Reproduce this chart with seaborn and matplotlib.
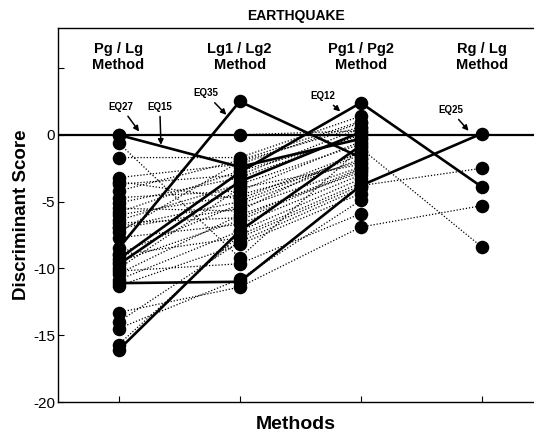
import matplotlib
matplotlib.use("Agg")
import matplotlib.pyplot as plt
import numpy as np
import pandas as pd
import seaborn as sns

METHODS = ["Pg / Lg\nMethod", "Lg1 / Lg2\nMethod", "Pg1 / Pg2\nMethod", "Rg / Lg\nMethod"]

# one entry per event: score for each method (nan = not available)
pg_lg = [0.0, -8.5, -9.3, -11.1, -16.1, -9.7,
         0.0, -0.6, -1.7, -3.2, -3.7, -4.2, -4.7, -5.1, -5.5, -5.8, -6.0, -6.4,
         -6.6, -6.9, -7.3, -7.7, -8.9, -9.0, -10.0, -10.2, -10.4, -10.85, -11.3,
         -13.3, -14.0, -14.5, -15.7, -3.5, -7.0, -9.5]
lg1_lg2 = [-2.4, 2.5, -2.8, -11.0, -7.2, -3.5,
           0.0, -9.2, -1.7, -2.2, -3.0, -1.9, -4.2, -3.2, -5.7, -2.7, -4.5, -3.7,
           -6.2, -5.0, -2.0, -6.7, -5.2, -7.7, -4.0, -9.65, -6.0, -7.2, -8.2,
           -11.4, -8.0, -10.8, -7.5, -4.8, -5.5, -6.4]
pg1_pg2 = [-0.3, -1.7, 2.4, -3.8, -0.8, 0.2,
           0.3, -1.0, 1.4, 0.9, 0.5, 1.0, -0.5, 0.0, -1.2, -0.2, -2.0, -0.7,
           -2.5, -1.5, 0.6, -3.0, -1.8, -3.8, -2.2, -5.9, -2.8, -3.3, -4.4,
           -6.9, -4.0, -4.9, -3.6, -1.3, -2.4, -2.6]
rg_lg = [np.nan, np.nan, -3.9, 0.1, np.nan, np.nan,
         np.nan, -8.4, np.nan, np.nan, np.nan, np.nan, np.nan, np.nan, np.nan,
         np.nan, np.nan, np.nan, np.nan, np.nan, np.nan, np.nan, np.nan, -2.5,
         np.nan, np.nan, np.nan, np.nan, np.nan, -5.3, np.nan, np.nan, np.nan,
         np.nan, np.nan, np.nan]
solid = [True] * 6 + [False] * 30

# labelled events: text, text position, arrow tip
labels = ["EQ27", "EQ15", "EQ35", "EQ12", "EQ25"]
label_xy = [(0.02, 2.1), (0.34, 2.1), (0.72, 3.1), (1.69, 2.9), (2.74, 1.85)]
arrow_xy = [(0.17, 0.25), (0.35, -0.75), (0.89, 1.5), (1.83, 1.75), (2.89, 0.3)]

rows = []
for i in range(len(pg_lg)):
    for j, col in enumerate([pg_lg, lg1_lg2, pg1_pg2, rg_lg]):
        if not np.isnan(col[i]):
            rows.append({"event": i, "method": j, "score": col[i], "solid": solid[i]})
df = pd.DataFrame(rows)

sns.set_style("white")
plt.rcParams["font.family"] = ["Liberation Sans", "DejaVu Sans"]
plt.rcParams["text.color"] = "black"
plt.rcParams["axes.labelcolor"] = "black"
plt.rcParams["xtick.color"] = "black"
plt.rcParams["ytick.color"] = "black"

fig = plt.figure(figsize=(5.34, 4.38), dpi=100)
ax = fig.add_axes([58 / 534, 1 - 402 / 438, 1 - 58 / 534, 374 / 438])

sns.lineplot(data=df[~df["solid"]], x="method", y="score", units="event",
             estimator=None, color="black", lw=0.9, linestyle=(0, (1, 1.5)),
             ax=ax, legend=False)
sns.lineplot(data=df[df["solid"]], x="method", y="score", units="event",
             estimator=None, color="black", lw=1.9, ax=ax, legend=False)
ax.axhline(0, color="black", lw=1.6, zorder=1)
sns.scatterplot(data=df, x="method", y="score", color="black", s=95,
                edgecolor="black", linewidth=0, ax=ax, zorder=5, legend=False)

for t, xy, tip in zip(labels, label_xy, arrow_xy):
    ax.annotate(t, xy=tip, xytext=xy, ha="center", va="center",
                fontsize=7, fontweight="bold",
                arrowprops=dict(arrowstyle="-|>", color="black", lw=1.1,
                                mutation_scale=8, shrinkA=1, shrinkB=0))

for j, m in enumerate(METHODS):
    ax.text(j, 5.8, m, ha="center", va="center", fontsize=10.5,
            fontweight="bold", linespacing=1.2)

ax.set_xlim(-0.5, 3.43)
ax.set_ylim(-20, 8)
ax.set_xticks(range(4))
ax.set_xticklabels([])
ax.set_yticks([5, 0, -5, -10, -15, -20])
ax.set_yticklabels(["", "0", "-5", "-10", "-15", "-20"], fontsize=11)
ax.tick_params(left=True, bottom=True, direction="in", length=4, width=0.8, pad=2)
for side in ["left", "bottom", "top"]:
    ax.spines[side].set_color("black")
    ax.spines[side].set_linewidth(1.0)
ax.spines["right"].set_visible(False)

ax.set_xlabel("Methods", fontsize=14, fontweight="bold", labelpad=8)
ax.set_ylabel("Discriminant Score", fontsize=13.5, fontweight="bold", labelpad=2)
ax.set_title("EARTHQUAKE", fontsize=10, fontweight="bold", pad=6)

fig.savefig("out.png", dpi=100)
